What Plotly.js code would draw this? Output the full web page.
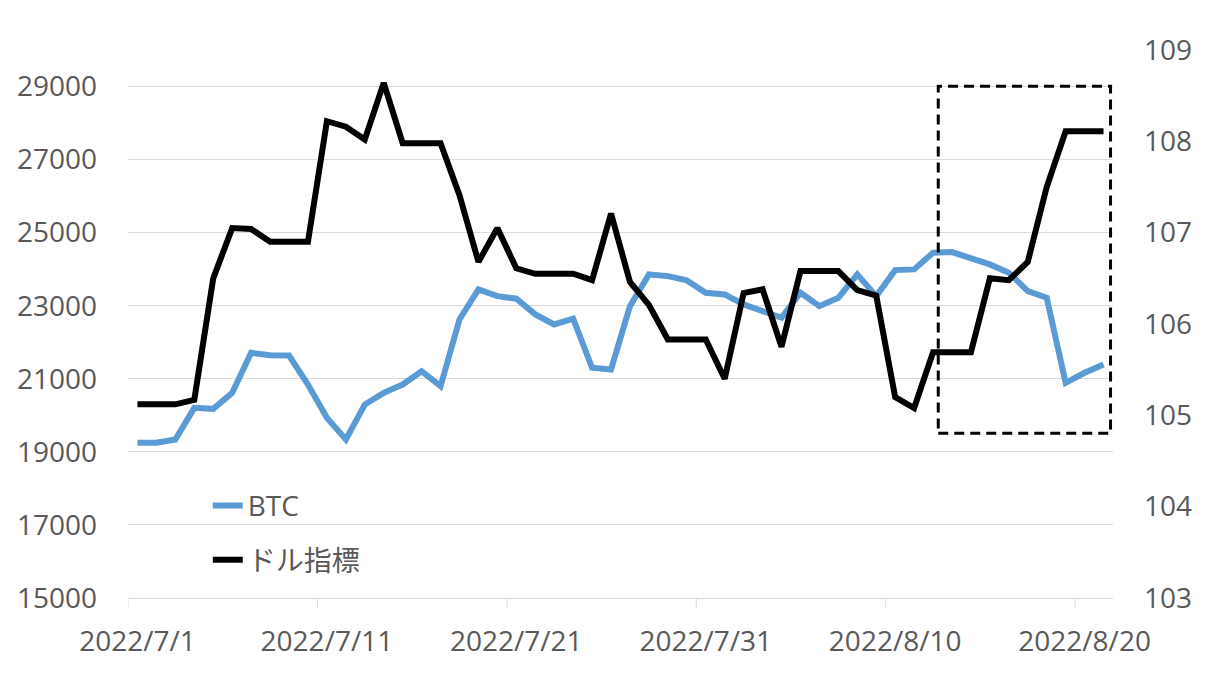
<!DOCTYPE html>
<html>
<head>
<meta charset="utf-8">
<script src="https://cdn.plot.ly/plotly-3.0.1.min.js"></script>
<style>
  html, body { margin: 0; padding: 0; background: #ffffff; }
  #chart { width: 1220px; height: 700px; }
</style>
</head>
<body>
<div id="chart"></div>
<script>
const dates = [
  "2022-07-01","2022-07-02","2022-07-03","2022-07-04","2022-07-05","2022-07-06","2022-07-07",
  "2022-07-08","2022-07-09","2022-07-10","2022-07-11","2022-07-12","2022-07-13","2022-07-14",
  "2022-07-15","2022-07-16","2022-07-17","2022-07-18","2022-07-19","2022-07-20","2022-07-21",
  "2022-07-22","2022-07-23","2022-07-24","2022-07-25","2022-07-26","2022-07-27","2022-07-28",
  "2022-07-29","2022-07-30","2022-07-31","2022-08-01","2022-08-02","2022-08-03","2022-08-04",
  "2022-08-05","2022-08-06","2022-08-07","2022-08-08","2022-08-09","2022-08-10","2022-08-11",
  "2022-08-12","2022-08-13","2022-08-14","2022-08-15","2022-08-16","2022-08-17","2022-08-18",
  "2022-08-19","2022-08-20","2022-08-21"
];

const btc = [
  19247, 19250, 19337, 20205, 20178, 20616, 21712,
  21647, 21638, 20844, 19932, 19337, 20296, 20616,
  20844, 21208, 20797, 22625, 23447, 23263, 23192,
  22762, 22488, 22644, 21301, 21255, 22989, 23858,
  23811, 23693, 23356, 23310, 23036, 22852, 22670,
  23356, 22989, 23219, 23858, 23263, 23975, 23995,
  24452, 24468, 24315, 24132, 23904, 23400, 23219,
  20890, 21164, 21392
];

const dollarIndex = [
  105.12, 105.12, 105.12, 105.17, 106.50, 107.05, 107.04,
  106.90, 106.90, 106.90, 108.22, 108.16, 108.02, 108.64,
  107.98, 107.98, 107.98, 107.41, 106.68, 107.05, 106.61,
  106.55, 106.55, 106.55, 106.48, 107.21, 106.46, 106.21,
  105.83, 105.83, 105.83, 105.40, 106.34, 106.38, 105.75,
  106.58, 106.58, 106.58, 106.37, 106.31, 105.20, 105.08,
  105.69, 105.69, 105.69, 106.50, 106.48, 106.68, 107.50,
  108.11, 108.11, 108.11
];

const xTickDates  = ["2022-07-01","2022-07-11","2022-07-21","2022-07-31","2022-08-10","2022-08-20"];
const xTickLabels = ["2022/7/1","2022/7/11","2022/7/21","2022/7/31","2022/8/10","2022/8/20"];
const leftTicks   = [15000, 17000, 19000, 21000, 23000, 25000, 27000, 29000];
const rightTicks  = [103, 104, 105, 106, 107, 108, 109];
const seriesNames = ["BTC", "ドル指標"];

const HALF_DAY = 12 * 3600 * 1000;
function shiftDate(d, ms) {
  const t = Date.parse(d + "T00:00:00Z") + ms;
  return new Date(t).toISOString().replace("T", " ").replace("Z", "");
}

const labelColor = "#595959";
const gridColor = "#d9d9d9";
const fontFam = "'Open Sans', 'Noto Sans CJK JP', sans-serif";

const traces = [
  {
    x: dates, y: btc, name: seriesNames[0], type: "scatter", mode: "lines",
    line: { color: "#5b9bd5", width: 6 }, yaxis: "y", legendgroup: "a"
  },
  {
    x: dates, y: dollarIndex, name: seriesNames[1], type: "scatter", mode: "lines",
    line: { color: "#000000", width: 6 }, yaxis: "y2", legendgroup: "b"
  }
];

const tickShapes = xTickDates.map(d => ({
  type: "line", xref: "x", yref: "paper",
  x0: shiftDate(d, -HALF_DAY), x1: shiftDate(d, -HALF_DAY),
  y0: 0, y1: -0.018,
  line: { color: gridColor, width: 1 }
}));

const layout = {
  width: 1220, height: 700,
  margin: { l: 128, r: 107, t: 50, b: 102 },
  paper_bgcolor: "#ffffff", plot_bgcolor: "#ffffff",
  font: { family: fontFam, color: labelColor, size: 28 },
  showlegend: true,
  legend: {
    x: 0.081, y: 0.214, xanchor: "left", yanchor: "top",
    bgcolor: "rgba(0,0,0,0)", font: { size: 28, color: labelColor, family: fontFam },
    tracegroupgap: 15, itemwidth: 30
  },
  xaxis: {
    type: "date",
    range: [shiftDate(dates[0], -HALF_DAY), shiftDate(dates[dates.length - 1], HALF_DAY)],
    tickmode: "array", tickvals: xTickDates, ticktext: xTickLabels,
    ticks: "", showgrid: false, zeroline: false,
    showline: true, linecolor: gridColor, linewidth: 1,
    tickfont: { size: 28, color: labelColor, family: fontFam },
    ticklabelstandoff: 18
  },
  yaxis: {
    range: [15000, 30000],
    tickmode: "array", tickvals: leftTicks, ticktext: leftTicks.map(String),
    showgrid: true, gridcolor: gridColor, gridwidth: 1, zeroline: false,
    showline: false, ticks: "",
    tickfont: { size: 28, color: labelColor, family: fontFam },
    ticklabelstandoff: 30
  },
  yaxis2: {
    range: [103, 109], overlaying: "y", side: "right",
    tickmode: "array", tickvals: rightTicks, ticktext: rightTicks.map(String),
    showgrid: false, zeroline: false, showline: false, ticks: "",
    tickfont: { size: 28, color: labelColor, family: fontFam },
    ticklabelstandoff: 30
  },
  shapes: [
    {
      type: "rect", xref: "paper", yref: "paper",
      x0: 0.8226, x1: 0.9975, y0: 0.3005, y1: 0.934,
      line: { color: "#000000", width: 3, dash: "10px,6px" },
      fillcolor: "rgba(0,0,0,0)"
    }
  ].concat(tickShapes)
};

Plotly.newPlot("chart", traces, layout, { displayModeBar: false, staticPlot: true });
</script>
</body>
</html>
